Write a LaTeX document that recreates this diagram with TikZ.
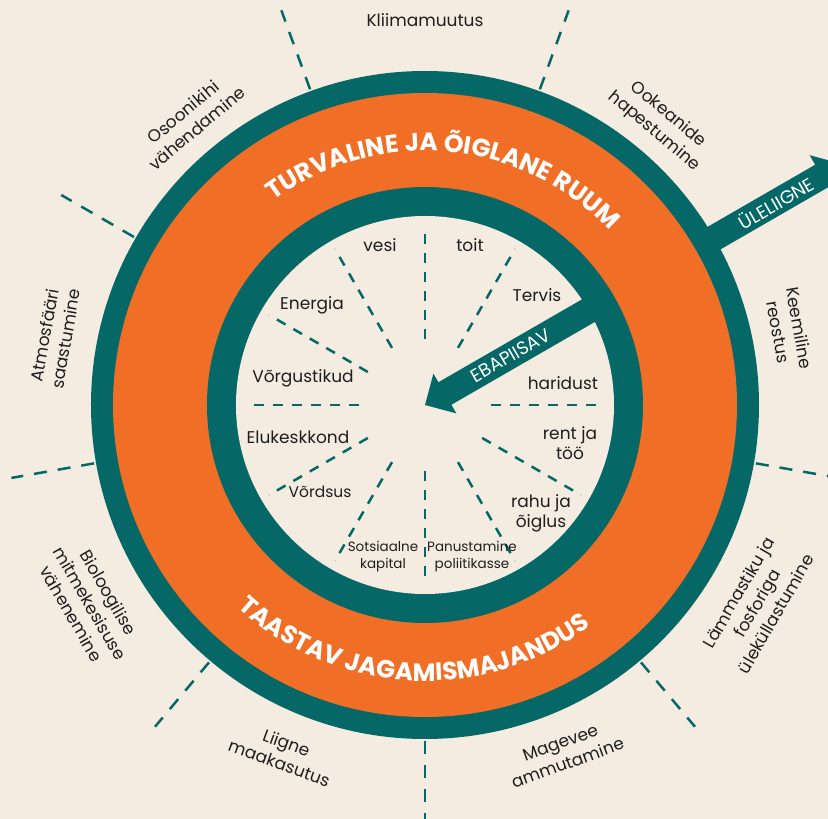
\documentclass[tikz,border=0pt]{standalone}
\usepackage{fontspec}
\setmainfont{Poppins}
\usetikzlibrary{decorations.text}
\definecolor{teal0}{RGB}{5,104,103}
\definecolor{orng}{RGB}{241,110,38}
\definecolor{cream}{RGB}{245,236,225}
\definecolor{ink}{RGB}{30,30,30}
\newcommand\ringfont{\fontsize{25}{25}\selectfont\bfseries}
\begin{document}
\begin{tikzpicture}[x=1pt,y=1pt,
 outlbl/.style={align=center, font=\fontsize{17}{21.5}\selectfont, text=ink, inner sep=0pt},
 inlbl/.style={align=center, font=\fontsize{17}{20}\selectfont, text=ink, inner sep=0pt},
 smlbl/.style={align=center, font=\fontsize{13.5}{17}\selectfont, text=ink, inner sep=0pt},
 odash/.style={draw=teal0, line width=2.5pt, dash pattern=on 13pt off 11pt},
 idash/.style={draw=teal0, line width=2.5pt, dash pattern=on 10pt off 9pt},
 arrowtxt/.style={text=white, font=\fontsize{18.5}{18.5}\selectfont, inner sep=0pt}
]
\fill[cream] (-425,-414) rectangle (403,405);
\useasboundingbox (-425,-414) rectangle (403,405);
% outer dividers
\foreach \a in {70,110,150,190,230,270,310,350}
  \draw[odash] (\a:336) -- (\a:420);
% rings
\fill[teal0] (0,0) circle[radius=334];
\fill[orng] (0,0) circle[radius=312];
\fill[teal0] (0,0) circle[radius=218];
\fill[cream] (0,0) circle[radius=189];
% inner dividers
\foreach \a in {0,60,90,120,150,180,210,240,270,300,330}
  \draw[idash] (\a:66) -- (\a:180);
% arrows
\fill[teal0, rotate=30] (322,-13) -- (458,-13) -- (458,-24) -- (482,0) -- (458,24) -- (458,13) -- (322,13) -- cycle;
\fill[teal0, rotate=30] (0,0) -- (23,-23) -- (23,-13) -- (200,-13) -- (200,13) -- (23,13) -- (23,23) -- cycle;
\node[arrowtxt, rotate=30] (ebap) at (30:99) {EBAPIISAV};
\node[arrowtxt, rotate=30] (ulel) at (30:405) {ÜLELIIGNE};
% ring texts
\path[decorate, decoration={text along path, text align=center, text color=white,
  text={|\ringfont|TURVALINE JA ÕIGLANE RUUM}}]
  (145:254) arc[start angle=145, end angle=25, radius=254];
\path[decorate, decoration={text along path, text align=center, text color=white,
  text={|\ringfont|TAASTAV JAGAMISMAJANDUS}}]
  (207:276) arc[start angle=207, end angle=327, radius=276];
% outer labels
\node[outlbl] (kl) at (0,385) {Kliimamuutus};
\node[outlbl, rotate=-40] (ok) at (236,282) {Ookeanide\\hapestumine};
\node[outlbl, rotate=-80] (ke) at (364,75) {Keemiline\\reostus};
\node[outlbl, rotate=60] (la) at (332,-198) {Lämmastiku ja\\fosforiga\\üleküllastumine};
\node[outlbl, rotate=20] (ma) at (139,-348) {Magevee\\ammutamine};
\node[outlbl, rotate=-20] (li) at (-142,-348) {Liigne\\maakasutus};
\node[outlbl, rotate=-60] (bi) at (-335,-198) {Bioloogilise\\mitmekesisuse\\vähenemine};
\node[outlbl, rotate=80] (at) at (-370,68) {Atmosfääri\\saastumine};
\node[outlbl, rotate=40] (os) at (-235,285) {Osoonikihi\\vähendamine};
% inner labels
\node[inlbl] (toit) at (45,160) {toit};
\node[inlbl] (vesi) at (-45,160) {vesi};
\node[inlbl] (en) at (-113,100) {Energia};
\node[inlbl] (vo) at (-122,27) {Võrgustikud};
\node[inlbl] (el) at (-127,-32) {Elukeskkond};
\node[inlbl, font=\fontsize{15.5}{19}\selectfont] (vr) at (-105,-87) {Võrdsus};
\node[smlbl] (so) at (-42,-152) {Sotsiaalne\\kapital};
\node[smlbl] (pa) at (47,-152) {Panustamine\\poliitikasse};
\node[inlbl] (ra) at (116,-108) {rahu ja\\õiglus};
\node[inlbl] (re) at (145,-38) {rent ja\\töö};
\node[inlbl] (ha) at (138,22) {haridust};
\node[inlbl] (te) at (112,110) {Tervis};
\end{tikzpicture}
\end{document}
